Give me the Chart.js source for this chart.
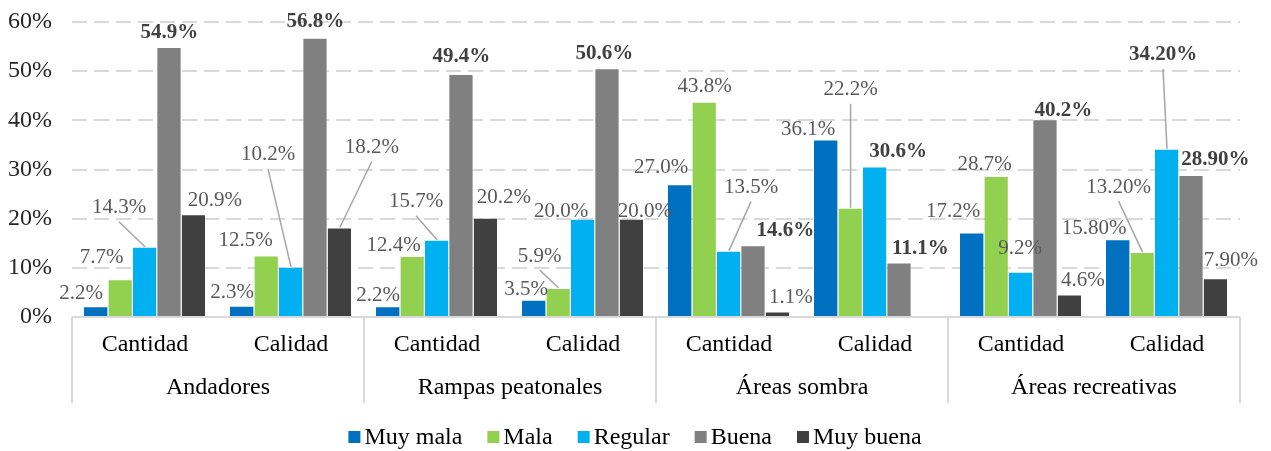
<!DOCTYPE html>
<html>
<head>
<meta charset="utf-8">
<script src="https://cdn.jsdelivr.net/npm/chart.js@4.4.1/dist/chart.umd.min.js"></script>
<style>
  body { margin: 0; background: #fff; }
  #wrap { width: 1271px; height: 451px; }
</style>
</head>
<body>
<div id="wrap"><canvas id="chart" width="1271" height="451"></canvas></div>
<script>
// DATA
var categories = ['Cantidad', 'Calidad', 'Cantidad', 'Calidad', 'Cantidad', 'Calidad', 'Cantidad', 'Calidad'];
var groups = ['Andadores', 'Rampas peatonales', 'Áreas sombra', 'Áreas recreativas'];
var seriesNames = ['Muy mala', 'Mala', 'Regular', 'Buena', 'Muy buena'];
var muyMala  = [2.2, 2.3, 2.2, 3.5, 27.0, 36.1, 17.2, 15.8];
var mala     = [7.7, 12.5, 12.4, 5.9, 43.8, 22.2, 28.7, 13.2];
var regular  = [14.3, 10.2, 15.7, 20.0, 13.5, 30.6, 9.2, 34.2];
var buena    = [54.9, 56.8, 49.4, 50.6, 14.6, 11.1, 40.2, 28.9];
var muyBuena = [20.9, 18.2, 20.2, 20.0, 1.1, null, 4.6, 7.9];
var labelDecimals = [1, 1, 1, 1, 1, 1, 1, 2];   // last group printed as 15.80% etc
var yTicks = [0, 10, 20, 30, 40, 50, 60];

// styles
var colors = ['#0070C0', '#92D050', '#00B0F0', '#808080', '#404040'];
var FONT = "'Liberation Serif', 'Times New Roman', serif";

// which labels are bold
var boldLabels = [
  [0,0,0,0,0,0,0,0],
  [0,0,0,0,0,0,0,0],
  [0,0,0,0,0,1,0,1],
  [1,1,1,1,1,1,1,1],
  [0,0,0,0,0,0,0,0]
];
// label offsets from the top centre of each bar (px), and leader lines
var labelDx = [
  [-15, -10, -10, -8, -19, -18, -19, -24],
  [-19, -21, -19, -19, 0, 0, -12, -24],
  [-26, -23, -21, -22, 22, 23, -1, -4],
  [0, 0, 0, -3, 32, 21, 18, 24],
  [21, 32, 18, 13, 13, 0, 13, 15]
];
var labelDy = [
  [-13, -13, -11, -10, -17, -10, -21, -11],
  [-22, -15, -11, -32, -15, -118, -11, -65],
  [-39, -112, -38, -7, -63, -15, -23, -94],
  [-14, -16, -18, -15, -15, -14, -9, -15],
  [-14, -80, -20, -7, -14, 0, -14, -18]
];
var leaders = [
  [0,0,0,0,0,0,0,0],
  [0,0,0,1,0,1,0,1],
  [1,1,1,0,1,0,0,1],
  [0,0,0,0,0,0,0,0],
  [0,1,0,0,0,0,0,0]
];

var allSeries = [muyMala, mala, regular, buena, muyBuena];

var datasets = allSeries.map(function(vals, i){
  return {
    label: seriesNames[i],
    data: vals,
    backgroundColor: colors[i],
    borderColor: 'rgba(255,255,255,0.5)',
    borderWidth: { top: 1, right: 1, bottom: 0, left: 0 },
    categoryPercentage: 0.836,
    barPercentage: 1.0
  };
});

// labels + leader lines
const labelPlugin = {
  id: 'barLabels',
  afterDatasetsDraw(chart) {
    const ctx = chart.ctx;
    ctx.save();
    ctx.textAlign = 'center';
    ctx.textBaseline = 'middle';
    chart.data.datasets.forEach(function(ds, i){
      const meta = chart.getDatasetMeta(i);
      meta.data.forEach(function(bar, j){
        const v = ds.data[j];
        if (v === null || v === undefined) return;
        const lx = bar.x + labelDx[i][j];
        const ly = bar.y + labelDy[i][j];
        if (leaders[i][j]) {
          ctx.strokeStyle = '#A6A6A6';
          ctx.lineWidth = 1.5;
          ctx.beginPath();
          ctx.moveTo(lx, ly + 14);
          ctx.lineTo(bar.x, bar.y);
          ctx.stroke();
        }
        const bold = boldLabels[i][j];
        ctx.font = (bold ? 'bold ' : '') + '21px ' + FONT;
        ctx.fillStyle = bold ? '#404040' : '#595959';
        ctx.fillText(v.toFixed(labelDecimals[j]) + '%', lx, ly);
      });
    });
    ctx.restore();
  }
};

// two level category axis + legend
const axisPlugin = {
  id: 'multiAxis',
  afterDraw(chart) {
    const ctx = chart.ctx;
    const area = chart.chartArea;
    const x = chart.scales.x;
    const y0 = chart.scales.y.getPixelForValue(0);
    const step = (area.right - area.left) / categories.length;
    ctx.save();
    ctx.strokeStyle = '#D9D9D9';
    ctx.lineWidth = 2;
    ctx.beginPath();
    ctx.moveTo(area.left, y0);
    ctx.lineTo(area.right, y0);
    for (let g = 0; g <= groups.length; g++) {
      const sx = area.left + g * 2 * step;
      ctx.moveTo(sx, y0);
      ctx.lineTo(sx, y0 + 86);
    }
    ctx.stroke();

    ctx.fillStyle = '#000';
    ctx.font = '24px ' + FONT;
    ctx.textAlign = 'center';
    ctx.textBaseline = 'middle';
    categories.forEach(function(c, j){
      ctx.fillText(c, x.getPixelForValue(j), y0 + 28);
    });
    groups.forEach(function(g, k){
      const cx = (x.getPixelForValue(2 * k) + x.getPixelForValue(2 * k + 1)) / 2;
      ctx.fillText(g, cx, y0 + 71);
    });

    // legend
    const box = 12, gap = 4, space = 25;
    ctx.textAlign = 'left';
    let widths = seriesNames.map(function(n){ return box + gap + ctx.measureText(n).width; });
    let total = widths.reduce(function(a, b){ return a + b; }, 0) + space * (seriesNames.length - 1);
    let lx = 635 - total / 2;
    const ly = 437;
    seriesNames.forEach(function(n, i){
      ctx.fillStyle = colors[i];
      ctx.fillRect(lx, ly - 6, box, box);
      ctx.fillStyle = '#000';
      ctx.fillText(n, lx + box + gap, ly + 1);
      lx += widths[i] + space;
    });
    ctx.restore();
  }
};

const myChart = new Chart('chart', {
  type: 'bar',
  data: {
    labels: categories,
    datasets: datasets
  },
  options: {
    responsive: false,
    animation: false,
    layout: { padding: { top: 22, right: 31, bottom: 134, left: 0 } },
    plugins: {
      legend: { display: false },
      tooltip: { enabled: false }
    },
    scales: {
      x: { display: false },
      y: {
        min: 0,
        max: 60,
        afterBuildTicks: function(scale){
          scale.ticks = yTicks.map(function(v){ return { value: v }; });
        },
        afterFit: function(scale){
          scale.width = 72;
          // tick padding should not push the plot down
          scale.paddingTop = 12;
          scale.paddingBottom = 12;
        },
        ticks: {
          callback: function(v){ return v + '%'; },
          font: { family: FONT, size: 24 },
          color: '#262626',
          padding: 20
        },
        grid: {
          color: function(c){ return c.tick && c.tick.value === 0 ? 'rgba(0,0,0,0)' : '#D9D9D9'; },
          lineWidth: 2,
          drawTicks: false
        },
        border: { display: false, dash: [15, 7] }
      }
    }
  },
  plugins: [labelPlugin, axisPlugin]
});
</script>
</body>
</html>
